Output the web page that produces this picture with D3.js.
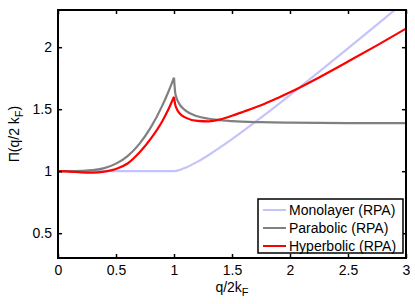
<!DOCTYPE html>
<html>
<head>
<meta charset="utf-8">
<script src="https://cdn.jsdelivr.net/npm/d3@7"></script>
<style>
  body { margin: 0; background: #fff; }
  svg { display: block; font-family: "Liberation Sans", Arial, sans-serif; }
</style>
</head>
<body>
<div id="chart"></div>
<script>
const width = 415;
const height = 304;
const margin = { top: 10, right: 9, bottom: 46, left: 58 };

// q/2kF sample points and values
const monoX = [0, 0.25, 0.5, 0.75, 1, 1.05, 1.1, 1.2, 1.3, 1.5, 1.75, 2, 2.25, 2.5, 2.75, 3];
const monoY = [1, 1, 1, 1, 1, 1.010, 1.028, 1.075, 1.131, 1.258, 1.432, 1.614, 1.801, 1.991, 2.182, 2.375];

const paraPreX = [0, 0.1, 0.2, 0.3, 0.4, 0.5, 0.6, 0.7, 0.8, 0.9, 0.95, 0.975, 1];
const paraPreY = [1, 1.000, 1.002, 1.008, 1.025, 1.061, 1.122, 1.218, 1.353, 1.531, 1.637, 1.694, 1.755];
const paraPostX = [1, 1.01, 1.02, 1.05, 1.1, 1.2, 1.3, 1.5, 1.75, 2, 2.5, 3];
const paraPostY = [1.755, 1.636, 1.597, 1.537, 1.488, 1.443, 1.423, 1.404, 1.395, 1.391, 1.388, 1.387];

const hypPreX = [0, 0.1, 0.2, 0.3, 0.4, 0.5, 0.6, 0.7, 0.8, 0.9, 0.95, 1];
const hypPreY = [1, 0.997, 0.991, 0.989, 0.997, 1.018, 1.062, 1.148, 1.262, 1.405, 1.495, 1.60];
const hypPostX = [1, 1.01, 1.02, 1.05, 1.1, 1.2, 1.3, 1.4, 1.5, 1.6, 1.75, 1.9, 2, 2.25, 2.5, 2.75, 3];
const hypPostY = [1.60, 1.54, 1.51, 1.465, 1.432, 1.406, 1.402, 1.418, 1.447, 1.48, 1.532, 1.593, 1.636, 1.756, 1.884, 2.015, 2.15];

const xTicks = [0, 0.5, 1, 1.5, 2, 2.5, 3];
const yTicks = [0.5, 1, 1.5, 2];

const seriesNames = ["Monolayer (RPA)", "Parabolic (RPA)", "Hyperbolic (RPA)"];
const seriesColors = ["#c4c4fa", "#808080", "#ff0000"];

const pts = (xs, ys) => xs.map((x, i) => [x, ys[i]]);

const series = [
  { name: seriesNames[0], color: seriesColors[0], parts: [pts(monoX, monoY)] },
  { name: seriesNames[1], color: seriesColors[1], parts: [pts(paraPreX, paraPreY), pts(paraPostX, paraPostY)] },
  { name: seriesNames[2], color: seriesColors[2], parts: [pts(hypPreX, hypPreY), pts(hypPostX, hypPostY)] },
];

const w = width - margin.left - margin.right;
const h = height - margin.top - margin.bottom;

const x = d3.scaleLinear().domain([0, 3]).range([0, w]);
const y = d3.scaleLinear().domain([0.3, 2.3]).range([h, 0]);

const svg = d3.select("#chart").append("svg")
  .attr("width", width)
  .attr("height", height);

const g = svg.append("g")
  .attr("transform", `translate(${margin.left},${margin.top})`);

g.append("clipPath").attr("id", "clip")
  .append("rect").attr("width", w).attr("height", h);

const line = d3.line()
  .x(d => x(d[0]))
  .y(d => y(d[1]))
  .curve(d3.curveMonotoneX);

const plot = g.append("g").attr("clip-path", "url(#clip)");

series.forEach(s => {
  plot.append("path")
    .attr("d", s.parts.map(p => line(p)).join(""))
    .attr("fill", "none")
    .attr("stroke", s.color)
    .attr("stroke-width", 2.2)
    .attr("stroke-linejoin", "round");
});

// axes: ticks inside, mirrored on top and right (box on)
const tickLen = 4;
const axisFont = "14px";

g.append("g")
  .attr("transform", `translate(0,${h})`)
  .call(d3.axisBottom(x).tickValues(xTicks).tickSizeInner(-tickLen).tickSizeOuter(0).tickPadding(7).tickFormat(d3.format("")))
  .call(a => a.select(".domain").remove());

g.append("g")
  .call(d3.axisTop(x).tickValues(xTicks).tickSizeInner(-tickLen).tickSizeOuter(0).tickFormat(""))
  .call(a => a.select(".domain").remove());

g.append("g")
  .call(d3.axisLeft(y).tickValues(yTicks).tickSizeInner(-tickLen).tickSizeOuter(0).tickPadding(6).tickFormat(d3.format("")))
  .call(a => a.select(".domain").remove());

g.append("g")
  .attr("transform", `translate(${w},0)`)
  .call(d3.axisRight(y).tickValues(yTicks).tickSizeInner(-tickLen).tickSizeOuter(0).tickFormat(""))
  .call(a => a.select(".domain").remove());

g.selectAll(".tick line").attr("stroke", "#000").attr("stroke-width", 1.5);
g.selectAll(".tick text")
  .attr("fill", "#000")
  .style("font-size", axisFont)
  .style("font-family", "'Liberation Sans', Arial, sans-serif");

g.append("rect")
  .attr("width", w)
  .attr("height", h)
  .attr("fill", "none")
  .attr("stroke", "#000")
  .attr("stroke-width", 2);

// axis labels
const xl = svg.append("text")
  .attr("x", margin.left + w / 2)
  .attr("y", 292)
  .attr("text-anchor", "middle")
  .style("font-size", "14px");
xl.append("tspan").text("q/2k");
xl.append("tspan").attr("dy", 4).style("font-size", "11px").text("F");

const yl = svg.append("text")
  .attr("transform", `translate(19,${margin.top + y(1.3)}) rotate(-90)`)
  .attr("text-anchor", "middle")
  .style("font-size", "14px");
yl.append("tspan").text("Π(q/2 k");
yl.append("tspan").attr("dy", 4).style("font-size", "11px").text("F");
yl.append("tspan").attr("dy", -4).text(")");

// legend
const lg = svg.append("g").attr("transform", "translate(258,199)");
lg.append("rect")
  .attr("width", 145)
  .attr("height", 54)
  .attr("fill", "#fff")
  .attr("stroke", "#000")
  .attr("stroke-width", 1.5);

series.forEach((s, i) => {
  const row = lg.append("g").attr("transform", `translate(0,${11 + i * 18})`);
  row.append("line")
    .attr("x1", 5).attr("x2", 28)
    .attr("stroke", s.color)
    .attr("stroke-width", 2);
  row.append("text")
    .attr("x", 31)
    .attr("dy", "0.35em")
    .style("font-size", "14px")
    .text(s.name);
});
</script>
</body>
</html>
